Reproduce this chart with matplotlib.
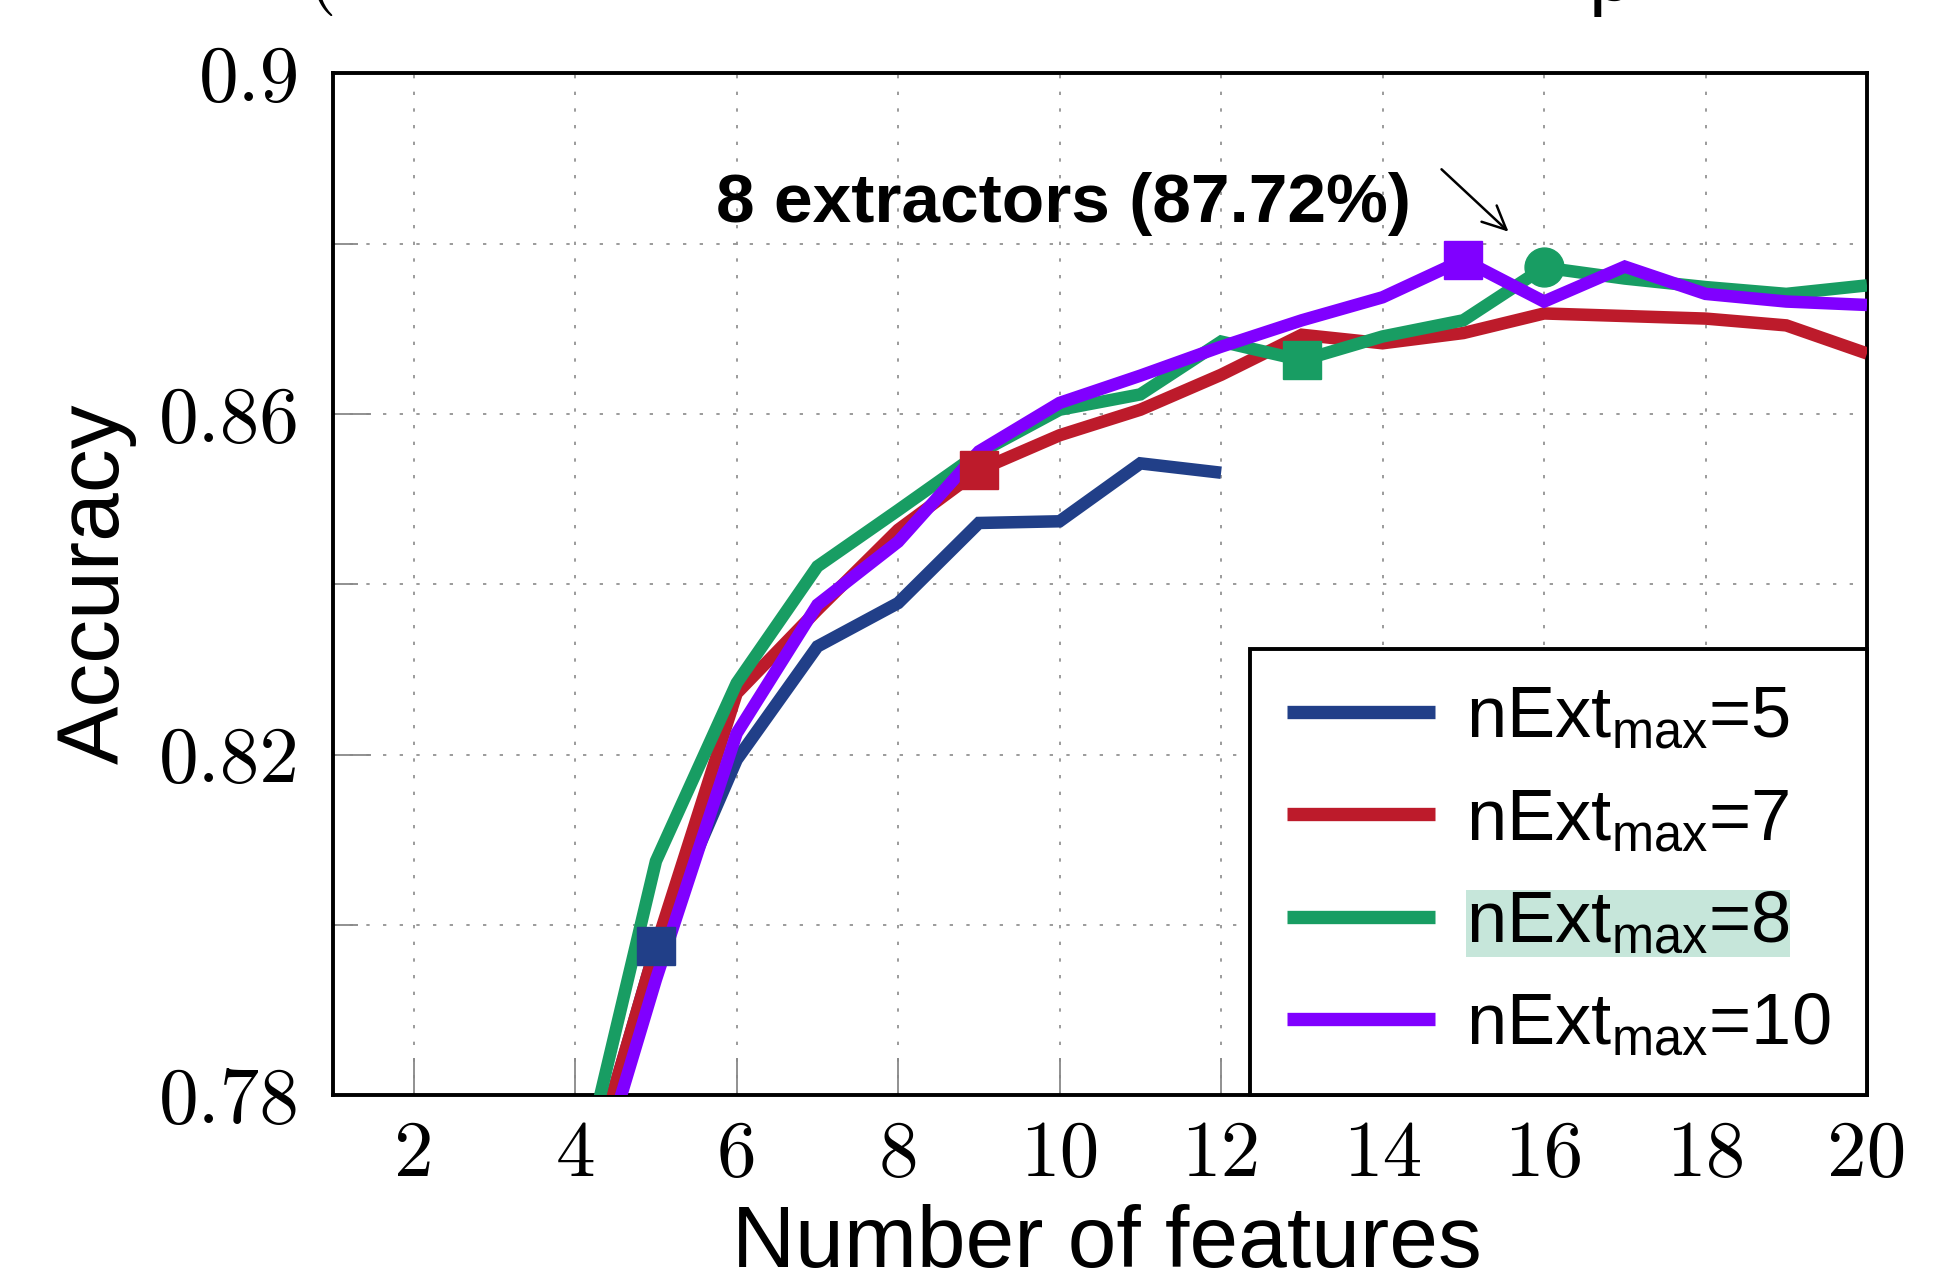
import matplotlib
matplotlib.use("Agg")
import matplotlib.pyplot as plt

# ---------------- data ----------------
x_blue = [4, 5, 6, 7, 8, 9, 10, 11, 12]
acc_blue = [0.765, 0.7975, 0.8194, 0.8327, 0.8378, 0.8472, 0.8474, 0.8542, 0.8531]

x_full = [4, 5, 6, 7, 8, 9, 10, 11, 12, 13, 14, 15, 16, 17, 18, 19, 20]
acc_red = [0.7651, 0.7975, 0.8272, 0.8370, 0.8464, 0.8534, 0.8575, 0.8605, 0.8646,
           0.8693, 0.8683, 0.8695, 0.8718, 0.8715, 0.8712, 0.8704, 0.8671]
acc_green = [0.7676, 0.8075, 0.8284, 0.8421, 0.8487, 0.8554, 0.8605, 0.8623, 0.8685,
             0.8663, 0.8691, 0.8710, 0.8772, 0.8759, 0.8749, 0.8741, 0.8751]
acc_purple = [0.7620, 0.7936, 0.8225, 0.8376, 0.8450, 0.8556, 0.8613, 0.8645, 0.8679,
              0.8710, 0.8737, 0.8781, 0.8732, 0.8773, 0.8741, 0.8732, 0.8728]

labels = [r"nExt$_{\mathregular{max}}$=5", r"nExt$_{\mathregular{max}}$=7",
          r"nExt$_{\mathregular{max}}$=8", r"nExt$_{\mathregular{max}}$=10"]
colors = ["#213f88", "#bd1b2b", "#189d63", "#8000ff"]

# square markers (best point of each series) and circle marker
sq_x = [5, 9, 13, 15]
circle_x = 16

xticks = [2, 4, 6, 8, 10, 12, 14, 16, 18, 20]
yticks_major = [0.78, 0.82, 0.86, 0.90]
ytick_labels = ["0.78", "0.82", "0.86", "0.9"]
yticks_minor = [0.80, 0.84, 0.88]

annot_text = "8 extractors (87.72%)"

# ---------------- figure ----------------
plt.rcParams["font.family"] = ["Liberation Sans", "DejaVu Sans"]
fig = plt.figure(figsize=(19.48, 12.79), dpi=100)
ax = fig.add_axes([333 / 1948, 1 - 1095.3 / 1279, 1534 / 1948, 1022 / 1279])

series = [(x_blue, acc_blue), (x_full, acc_red), (x_full, acc_green), (x_full, acc_purple)]
for (xs, ys), c, lab in zip(series, colors, labels):
    ax.plot(xs, ys, color=c, lw=9, solid_joinstyle="miter", solid_capstyle="butt",
            label=lab, zorder=3)

# markers
for (xs, ys), c, mx in zip(series, colors, sq_x):
    ax.plot([mx], [ys[xs.index(mx)]], marker="s", ms=28, color=c, mec=c, ls="none", zorder=4)
ax.plot([circle_x], [acc_green[x_full.index(circle_x)]], marker="o", ms=28,
        color=colors[2], mec=colors[2], ls="none", zorder=4)

ax.set_xlim(1, 20)
ax.set_ylim(0.78, 0.90)

ax.set_xticks(xticks)
ax.set_xticklabels([str(v) for v in xticks])
ax.set_yticks(yticks_major)
ax.set_yticklabels(ytick_labels)
ax.set_yticks(yticks_minor, minor=True)

for lab in ax.get_xticklabels() + ax.get_yticklabels():
    lab.set_fontfamily("cmr10")
    lab.set_fontsize(57)

ax.tick_params(which="major", direction="in", length=27, width=1.3, color="#888888")
ax.tick_params(which="minor", direction="in", length=18, width=1.3, color="#888888")
ax.tick_params(axis="x", which="major", pad=18)
ax.tick_params(axis="y", which="major", pad=24)

ax.set_axisbelow(True)
ax.grid(True, which="both", color="#8a8a8a", linestyle=(0, (2, 8)), linewidth=1.2)

for sp in ax.spines.values():
    sp.set_linewidth(2.8)
    sp.set_color("black")

# axis labels
fig.text(0.5683, 0.0095, "Number of features", fontsize=63, ha="center", va="baseline")
fig.text(0.0611, 0.5434, "Accuracy", fontsize=63, rotation=90, rotation_mode="anchor",
         ha="center", va="baseline")

# annotation
ax.text(10.05, 0.88258, annot_text, fontsize=50, fontweight="bold", ha="center", va="baseline")
ax.annotate("", xy=(15.56, 0.8814), xytext=(14.73, 0.88873),
            arrowprops=dict(arrowstyle="->,head_length=1.7,head_width=0.8", lw=1.8,
                            color="black", shrinkA=0, shrinkB=0))

# legend
leg = ax.legend(loc="lower right", fontsize=52, frameon=True, fancybox=False,
                framealpha=1, edgecolor="black", borderaxespad=0,
                handlelength=2.05, handletextpad=0.44, borderpad=0.5, labelspacing=0.49)
leg.get_frame().set_linewidth(2.8)
for h in leg.get_lines():
    h.set_linewidth(9.6)
    h.set_solid_capstyle("butt")
leg.get_texts()[2].set_bbox(dict(facecolor="#c6e6da", edgecolor="none", pad=0))
leg.set_zorder(5)

# cut-off title fragments at the top edge
fig.text(305 / 1948, 1.0031, "(", fontsize=57, fontfamily="cmr10", ha="left", va="baseline")
fig.text(1589 / 1948, 0.9997, "p", fontsize=57, ha="left", va="baseline")

fig.savefig("out.png", dpi=100)
